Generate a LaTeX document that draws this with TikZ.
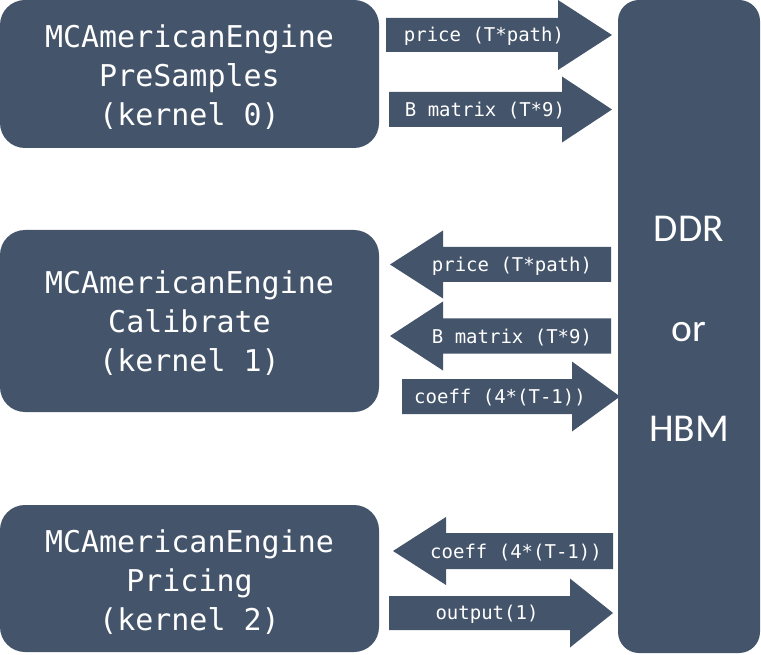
\documentclass[tikz,border=0pt]{standalone}
\usepackage{fontspec}
\newfontfamily\kmono{DejaVu Sans Mono}
\newfontfamily\ddrfont{Carlito}
\definecolor{slate}{HTML}{44546A}
\newcommand\blockarrow[7]{% name, tail x, head base x, tip x, centre y, shaft half, head half
  \fill[arrowfill] (#2,#5-#6) -- (#3,#5-#6) -- (#3,#5-#7) -- (#4,#5)
    -- (#3,#5+#7) -- (#3,#5+#6) -- (#2,#5+#6) -- cycle;
  \coordinate (#1) at (#4,#5);}
\begin{document}
\begin{tikzpicture}[x=1pt,y=-1pt,
  kbox/.style={fill=slate, rounded corners=25pt, inner sep=0pt, minimum width=379pt},
  ktext/.style={text=white, align=center, inner sep=0pt,
    font=\kmono\fontsize{30}{39}\selectfont},
  membox/.style={fill=slate, rounded corners=21pt, inner sep=0pt,
    minimum width=142pt, minimum height=653pt},
  memtext/.style={text=white, align=center, inner sep=0pt,
    font=\ddrfont\fontsize{39.5}{100}\selectfont},
  arrowfill/.style={fill=slate},
  lbl/.style={text=white, font=\kmono\fontsize{19}{20}\selectfont, inner sep=0pt, yshift=-1.5pt}]
\useasboundingbox (0,0) rectangle (761,655);

\node[kbox, minimum height=148pt] (k0) at (189.5,74) {};
\node[kbox, minimum height=182pt] (k1) at (189.5,321) {};
\node[kbox, minimum height=147pt] (k2) at (189.5,578.5) {};
\node[ktext] (k0t) at (189.5,77.5) {MCAmericanEngine\\PreSamples\\(kernel 0)};
\node[ktext] (k1t) at (189.5,323.5) {MCAmericanEngine\\Calibrate\\(kernel 1)};
\node[ktext] (k2t) at (189.5,582) {MCAmericanEngine\\Pricing\\(kernel 2)};
\node[membox] (mem) at (689,326.5) {};
\node[memtext] (memt) at (689,329) {DDR\\or\\HBM};

\blockarrow{a1}{386}{558}{612}{35}{17}{35}
\blockarrow{a2}{389}{562}{612}{109.5}{17.5}{33}
\blockarrow{a3}{611}{443}{390}{264.5}{17.5}{34}
\blockarrow{a4}{611}{443}{390}{336}{17.5}{34.5}
\blockarrow{a5}{402}{572}{620}{396.5}{17.5}{35}
\blockarrow{a6}{613}{446}{393}{551}{18}{34}
\blockarrow{a7}{389}{570}{613}{613}{17}{34.5}

\node[lbl] (l1) at (484,35) {price (T*path)};
\node[lbl] (l2) at (485,109.5) {B matrix (T*9)};
\node[lbl] (l3) at (512,264.5) {price (T*path)};
\node[lbl] (l4) at (512,336) {B matrix (T*9)};
\node[lbl] (l5) at (500,396.5) {coeff (4*(T-1))};
\node[lbl] (l6) at (516,551) {coeff (4*(T-1))};
\node[lbl] (l7) at (487,613) {output(1)};
\end{tikzpicture}
\end{document}
